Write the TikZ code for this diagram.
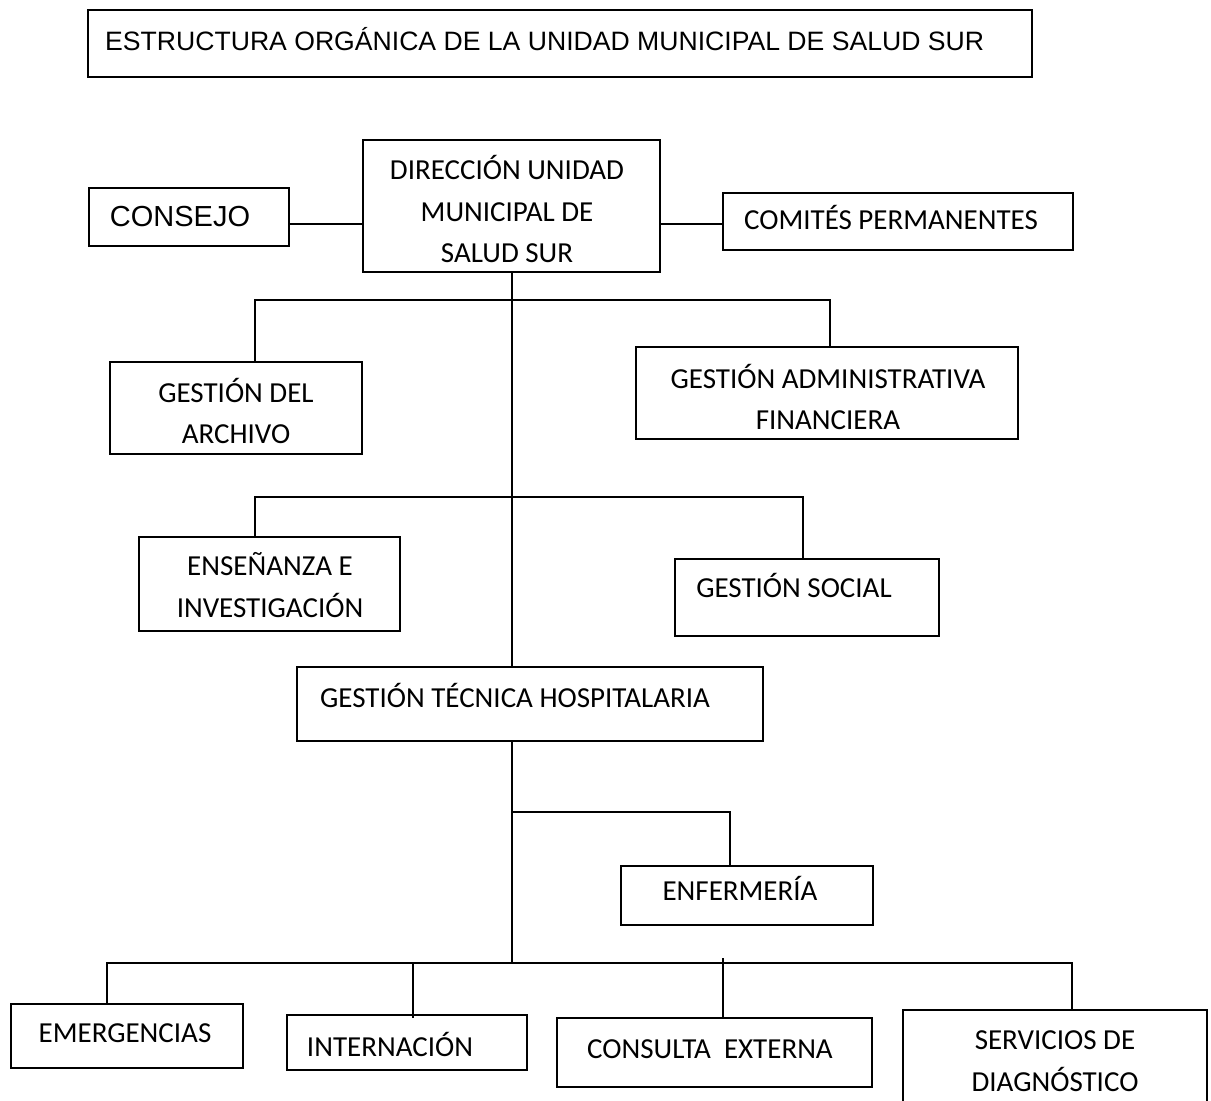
\documentclass[tikz,border=0pt]{standalone}
\usepackage{fontspec}
\setmainfont{Carlito}
\newfontfamily\arialf{Liberation Sans}
\usetikzlibrary{fit}
\begin{document}
\begin{tikzpicture}[x=1pt,y=-1pt,
  box/.style={draw, line width=2pt, inner sep=0pt},
  conn/.style={line width=2pt},
  lbl/.style={font=\fontsize{29}{41.5}\selectfont, align=center, inner sep=0pt},
  albl/.style={font=\arialf\fontsize{26.6}{32}\selectfont, inner sep=0pt}]
\useasboundingbox (0,0) rectangle (1211,1101);
% boxes
\node[box, fit={(88,10) (1032,77)}] (title) {};
\node[box, fit={(363,140) (660,272)}] (dir) {};
\node[box, fit={(89,188) (289,246)}] (cons) {};
\node[box, fit={(723,193) (1073,250)}] (com) {};
\node[box, fit={(110,362) (362,454)}] (arch) {};
\node[box, fit={(636,347) (1018,439)}] (gaf) {};
\node[box, fit={(139,537) (400,631)}] (ens) {};
\node[box, fit={(675,559) (939,636)}] (soc) {};
\node[box, fit={(297,667) (763,741)}] (gth) {};
\node[box, fit={(621,866) (873,925)}] (enf) {};
\node[box, fit={(11,1004) (243,1068)}] (emer) {};
\node[box, fit={(287,1015) (527,1070)}] (intn) {};
\node[box, fit={(557,1018) (872,1087)}] (cext) {};
\node[box, fit={(903,1010) (1207,1120)}] (serv) {};
% texts
\node[albl, anchor=west] (ttitle) at (105,39) {ESTRUCTURA ORGÁNICA DE LA UNIDAD MUNICIPAL DE SALUD SUR};
\node[albl, font=\arialf\fontsize{29}{34}\selectfont] (tcons) at (180,217) {CONSEJO};
\node[lbl] (tdir) at (507,209) {DIRECCIÓN UNIDAD\\MUNICIPAL DE\\SALUD SUR};
\node[lbl] (tcom) at (891,217) {COMITÉS PERMANENTES};
\node[lbl] (tarch) at (236,411) {GESTIÓN DEL\\ARCHIVO};
\node[lbl] (tgaf) at (828,397) {GESTIÓN ADMINISTRATIVA\\FINANCIERA};
\node[lbl] (tens) at (270,585) {ENSEÑANZA E\\INVESTIGACIÓN};
\node[lbl] (tsoc) at (794,585) {GESTIÓN SOCIAL};
\node[lbl] (tgth) at (515,695) {GESTIÓN TÉCNICA HOSPITALARIA};
\node[lbl] (tenf) at (740,888) {ENFERMERÍA};
\node[lbl] (temer) at (125,1033) {EMERGENCIAS};
\node[lbl] (tint) at (390,1044) {INTERNACIÓN};
\node[lbl] (text) at (710,1049) {CONSULTA\ \ EXTERNA};
\node[lbl] (tserv) at (1055,1061) {SERVICIOS DE\\DIAGNÓSTICO};
% junction coordinates
\coordinate (y224) at (0,224);
\coordinate (h1l) at (255,300);
\coordinate (h1r) at (830,300);
\coordinate (h2l) at (255,497);
\coordinate (h2r) at (803,497);
\coordinate (h3r) at (730,812);
\coordinate (h4l) at (107,963);
\coordinate (h4r) at (1072,963);
\coordinate (v4b) at (413,963);
\coordinate (v4c) at (723,958);
% connectors
\draw[conn] (cons.east |- y224) -- (dir.west |- y224);
\draw[conn] (dir.east |- y224) -- (com.west |- y224);
\draw[conn] (dir.south) -- (dir.south |- gth.north);
\draw[conn] (arch.north -| h1l) -- (h1l) -- (h1r) -- (gaf.north -| h1r);
\draw[conn] (ens.north -| h2l) -- (h2l) -- (h2r) -- (soc.north -| h2r);
\draw[conn] (dir.south |- gth.south) -- (dir.south |- h4l);
\draw[conn] (dir.south |- h3r) -- (h3r) -- (enf.north -| h3r);
\draw[conn] (emer.north -| h4l) -- (h4l) -- (h4r) -- (serv.north -| h4r);
\draw[conn] (v4b) -- ([yshift=-4pt]intn.north -| v4b);
\draw[conn] (v4c) -- (cext.north -| v4c);
\end{tikzpicture}
\end{document}
